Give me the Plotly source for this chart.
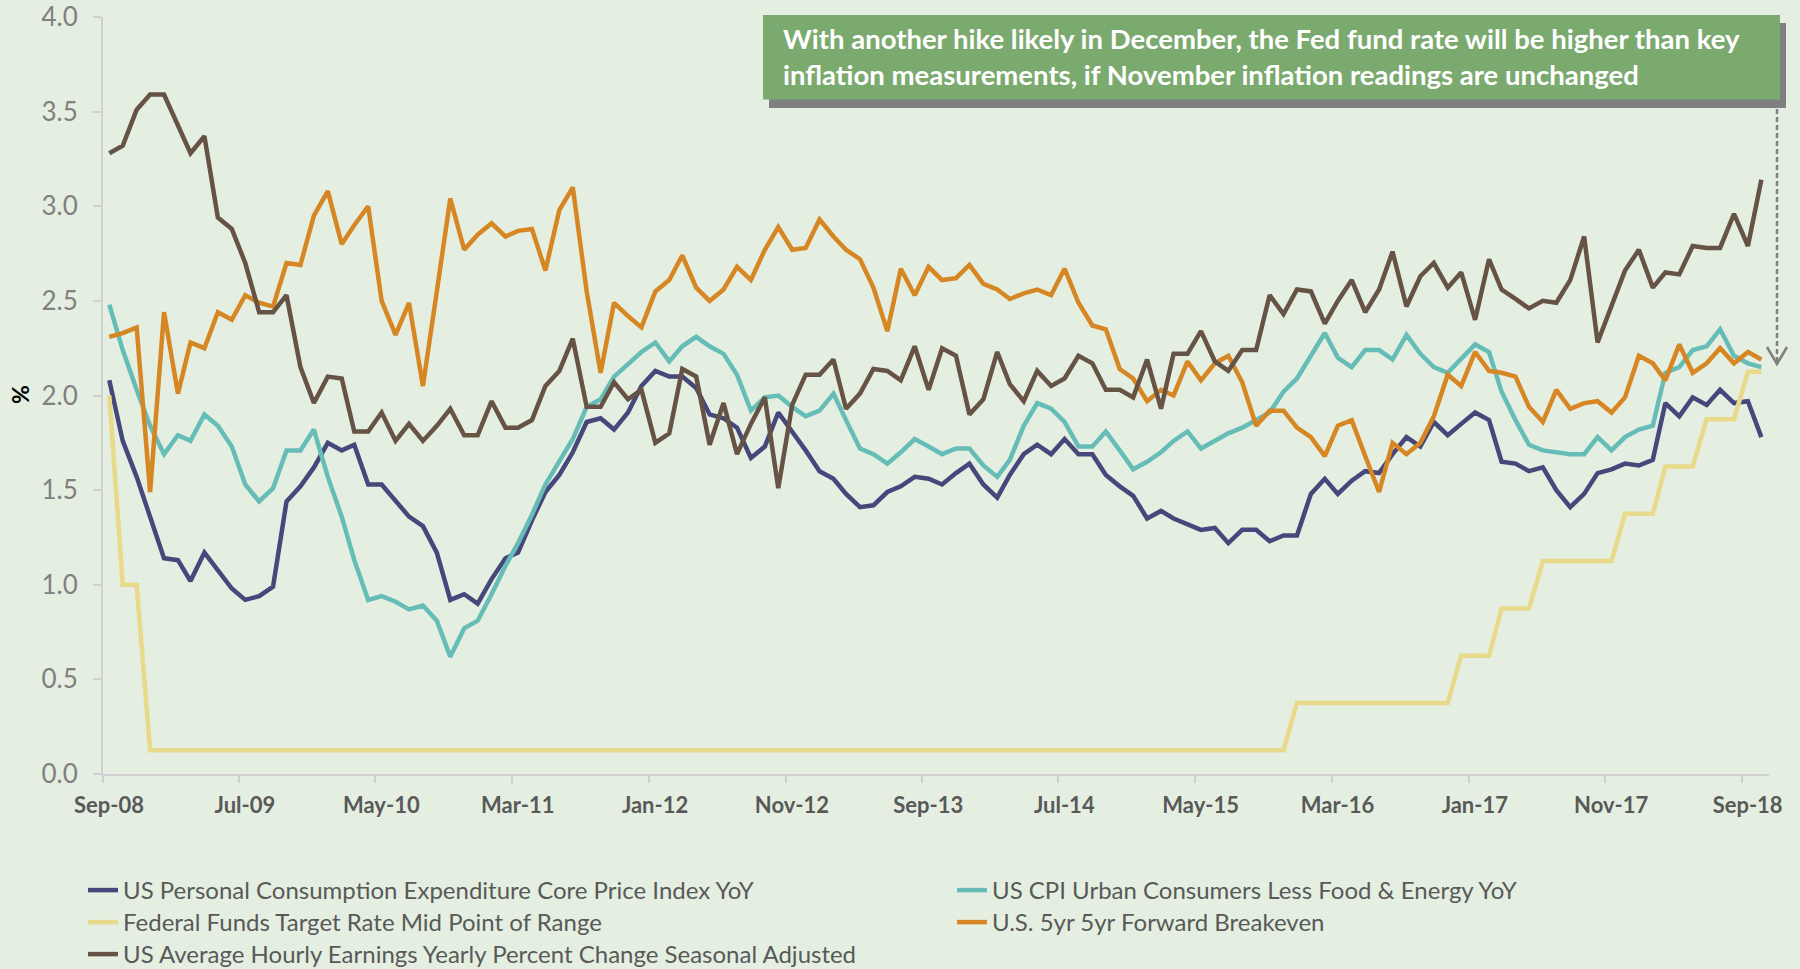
import pandas as pd
import plotly.graph_objects as go

# ---------------- data (monthly, Sep-08 .. Oct-18) ----------------
MONTHS = pd.date_range("2008-09-01", "2018-10-01", freq="MS") + pd.Timedelta(days=14)

PCE_CORE = [
    2.08, 1.76, 1.57, 1.35,
    1.14, 1.13, 1.02, 1.17, 1.08, 0.98, 0.92, 0.94, 0.99, 1.44, 1.52, 1.62,
    1.75, 1.71, 1.74, 1.53, 1.53, 1.44, 1.36, 1.31, 1.17, 0.92, 0.95, 0.90,
    1.03, 1.14, 1.17, 1.34, 1.49, 1.58, 1.70, 1.86, 1.88, 1.82, 1.91, 2.05,
    2.13, 2.10, 2.10, 2.04, 1.90, 1.88, 1.83, 1.67, 1.73, 1.91, 1.81, 1.71,
    1.60, 1.56, 1.48, 1.41, 1.42, 1.49, 1.52, 1.57, 1.56, 1.53, 1.59, 1.64,
    1.53, 1.46, 1.58, 1.69, 1.74, 1.69, 1.77, 1.69, 1.69, 1.58, 1.52, 1.47,
    1.35, 1.39, 1.35, 1.32, 1.29, 1.30, 1.22, 1.29, 1.29, 1.23, 1.26, 1.26,
    1.48, 1.56, 1.48, 1.55, 1.60, 1.59, 1.69, 1.78, 1.73, 1.86, 1.79, 1.85,
    1.91, 1.87, 1.65, 1.64, 1.60, 1.62, 1.50, 1.41, 1.48, 1.59, 1.61, 1.64,
    1.63, 1.66, 1.96, 1.89, 1.99, 1.95, 2.03, 1.96, 1.97, 1.78,
]

CPI_CORE = [
    2.48, 2.24, 2.03, 1.84,
    1.69, 1.79, 1.76, 1.90, 1.84, 1.73, 1.53, 1.44, 1.51, 1.71, 1.71, 1.82,
    1.57, 1.36, 1.13, 0.92, 0.94, 0.91, 0.87, 0.89, 0.81, 0.62, 0.77, 0.81,
    0.95, 1.10, 1.22, 1.37, 1.53, 1.65, 1.77, 1.94, 1.98, 2.10, 2.17, 2.23,
    2.28, 2.18, 2.26, 2.31, 2.26, 2.22, 2.11, 1.92, 1.99, 2.00, 1.94, 1.89,
    1.92, 2.01, 1.87, 1.72, 1.69, 1.64, 1.70, 1.77, 1.73, 1.69, 1.72, 1.72,
    1.63, 1.57, 1.66, 1.84, 1.96, 1.93, 1.86, 1.73, 1.73, 1.81, 1.71, 1.61,
    1.65, 1.70, 1.76, 1.81, 1.72, 1.76, 1.80, 1.83, 1.87, 1.91, 2.02, 2.09,
    2.21, 2.33, 2.20, 2.15, 2.24, 2.24, 2.19, 2.32, 2.22, 2.15, 2.12, 2.19,
    2.27, 2.23, 2.02, 1.87, 1.74, 1.71, 1.70, 1.69, 1.69, 1.78, 1.71, 1.78,
    1.82, 1.84, 2.12, 2.15, 2.24, 2.26, 2.35, 2.21, 2.17, 2.15,
]

FED_FUNDS_MID = [
    2.000, 1.000, 1.000, 0.125,
    0.125, 0.125, 0.125, 0.125, 0.125, 0.125, 0.125, 0.125, 0.125, 0.125, 0.125, 0.125,
    0.125, 0.125, 0.125, 0.125, 0.125, 0.125, 0.125, 0.125, 0.125, 0.125, 0.125, 0.125,
    0.125, 0.125, 0.125, 0.125, 0.125, 0.125, 0.125, 0.125, 0.125, 0.125, 0.125, 0.125,
    0.125, 0.125, 0.125, 0.125, 0.125, 0.125, 0.125, 0.125, 0.125, 0.125, 0.125, 0.125,
    0.125, 0.125, 0.125, 0.125, 0.125, 0.125, 0.125, 0.125, 0.125, 0.125, 0.125, 0.125,
    0.125, 0.125, 0.125, 0.125, 0.125, 0.125, 0.125, 0.125, 0.125, 0.125, 0.125, 0.125,
    0.125, 0.125, 0.125, 0.125, 0.125, 0.125, 0.125, 0.125, 0.125, 0.125, 0.125, 0.375,
    0.375, 0.375, 0.375, 0.375, 0.375, 0.375, 0.375, 0.375, 0.375, 0.375, 0.375, 0.625,
    0.625, 0.625, 0.875, 0.875, 0.875, 1.125, 1.125, 1.125, 1.125, 1.125, 1.125, 1.375,
    1.375, 1.375, 1.625, 1.625, 1.625, 1.875, 1.875, 1.875, 2.125, 2.125,
]

BREAKEVEN_5Y5Y = [
    2.31, 2.33, 2.36, 1.49,
    2.44, 2.01, 2.28, 2.25, 2.44, 2.40, 2.53, 2.49, 2.47, 2.70, 2.69, 2.95,
    3.08, 2.80, 2.90, 3.00, 2.50, 2.32, 2.49, 2.05, 2.55, 3.04, 2.77, 2.85,
    2.91, 2.84, 2.87, 2.88, 2.66, 2.98, 3.10, 2.55, 2.12, 2.49, 2.42, 2.36,
    2.55, 2.61, 2.74, 2.57, 2.50, 2.56, 2.68, 2.61, 2.77, 2.89, 2.77, 2.78,
    2.93, 2.84, 2.77, 2.72, 2.57, 2.34, 2.67, 2.53, 2.68, 2.61, 2.62, 2.69,
    2.59, 2.56, 2.51, 2.54, 2.56, 2.53, 2.67, 2.49, 2.37, 2.35, 2.14, 2.09,
    1.97, 2.03, 2.00, 2.18, 2.08, 2.17, 2.21, 2.07, 1.84, 1.92, 1.92, 1.83,
    1.78, 1.68, 1.84, 1.87, 1.68, 1.49, 1.75, 1.69, 1.75, 1.89, 2.11, 2.05,
    2.23, 2.13, 2.12, 2.10, 1.94, 1.86, 2.03, 1.93, 1.96, 1.97, 1.91, 1.99,
    2.21, 2.17, 2.08, 2.27, 2.12, 2.17, 2.25, 2.17, 2.23, 2.19,
]

AHE_YOY = [
    3.28, 3.32, 3.51, 3.59,
    3.59, 3.43, 3.28, 3.37, 2.94, 2.88, 2.70, 2.44, 2.44, 2.53, 2.15, 1.96,
    2.10, 2.09, 1.81, 1.81, 1.91, 1.76, 1.85, 1.76, 1.84, 1.93, 1.79, 1.79,
    1.97, 1.83, 1.83, 1.87, 2.05, 2.13, 2.30, 1.94, 1.94, 2.07, 1.98, 2.03,
    1.75, 1.80, 2.14, 2.10, 1.74, 1.96, 1.69, 1.85, 1.99, 1.51, 1.95, 2.11,
    2.11, 2.19, 1.93, 2.01, 2.14, 2.13, 2.08, 2.26, 2.03, 2.25, 2.21, 1.90,
    1.98, 2.23, 2.06, 1.97, 2.13, 2.05, 2.09, 2.21, 2.17, 2.03, 2.03, 1.99,
    2.19, 1.93, 2.22, 2.22, 2.34, 2.18, 2.13, 2.24, 2.24, 2.53, 2.43, 2.56,
    2.55, 2.38, 2.50, 2.61, 2.44, 2.56, 2.76, 2.47, 2.63, 2.70, 2.57, 2.65,
    2.40, 2.72, 2.56, 2.51, 2.46, 2.50, 2.49, 2.61, 2.84, 2.28, 2.47, 2.66,
    2.77, 2.57, 2.65, 2.64, 2.79, 2.78, 2.78, 2.96, 2.79, 3.14,
]

SERIES_NAMES = [
    "US Personal Consumption Expenditure Core Price Index YoY",
    "US CPI Urban Consumers Less Food & Energy YoY",
    "Federal Funds Target Rate Mid Point of Range",
    "U.S. 5yr 5yr Forward Breakeven",
    "US Average Hourly Earnings Yearly Percent Change Seasonal Adjusted",
]
SERIES_COLORS = ["#46477A", "#66BDB7", "#E9D98A", "#D68724", "#665345"]
LEGEND_ROWS = ["legend", "legend", "legend2", "legend2", "legend3"]

TICK_LABELS = ["Sep-08", "Jul-09", "May-10", "Mar-11", "Jan-12", "Nov-12", "Sep-13",
               "Jul-14", "May-15", "Mar-16", "Jan-17", "Nov-17", "Sep-18"]
TICK_VALS = pd.date_range("2008-09-01", periods=len(TICK_LABELS), freq="10MS")

NOTE = ("With another hike likely in December, the Fed fund rate will be higher than key<br>"
        "inflation measurements, if November inflation readings are unchanged")

# ---------------- layout geometry (pixels) ----------------
W, H = 1800, 969
L, R, T, B = 103, 1769, 17, 774   # plot area edges in px


def px(x):
    return (x - L) / (R - L)


def py(y):
    return (B - y) / (B - T)


BG = "#E4EFE1"
FONT = "Lato"

fig = go.Figure()
for name, vals, col, lg in zip(SERIES_NAMES,
                               [PCE_CORE, CPI_CORE, FED_FUNDS_MID, BREAKEVEN_5Y5Y, AHE_YOY],
                               SERIES_COLORS, LEGEND_ROWS):
    fig.add_trace(go.Scatter(x=MONTHS, y=vals, mode="lines", name=name, legend=lg,
                             line=dict(color=col, width=4.5)))

shapes = [
    # shadow and box of the note
    dict(type="rect", xref="paper", yref="paper", x0=px(769), x1=px(1786), y0=py(108), y1=py(23),
         fillcolor="#808080", line=dict(width=0), layer="above"),
    dict(type="rect", xref="paper", yref="paper", x0=px(763), x1=px(1780), y0=py(99.5), y1=py(15),
         fillcolor="#7BAA6E", line=dict(width=0), layer="above"),
    # dashed arrow
    dict(type="line", xref="paper", yref="paper", x0=px(1777), x1=px(1777), y0=py(109), y1=py(363),
         line=dict(color="#7F7F7F", width=2.5, dash="5px,3px")),
    dict(type="path", xref="paper", yref="paper",
         path=f"M {px(1767)},{py(347)} L {px(1777)},{py(364)} L {px(1787)},{py(347)}",
         line=dict(color="#7F7F7F", width=2.5)),
]


def legend_row(top_px):
    return dict(orientation="h", x=px(83), xanchor="left", y=py(top_px), yanchor="top",
                font=dict(size=24, color="#595959", family=FONT),
                entrywidth=824, entrywidthmode="pixels",
                bgcolor="rgba(0,0,0,0)", borderwidth=0, traceorder="normal")


fig.update_layout(
    width=W, height=H,
    paper_bgcolor=BG, plot_bgcolor=BG,
    margin=dict(l=L, r=W - R, t=T, b=H - B, autoexpand=False),
    font=dict(family=FONT, color="#595959"),
    showlegend=True,
    legend=legend_row(868),
    legend2=legend_row(900),
    legend3=legend_row(932),
    xaxis=dict(type="date", range=["2008-09-01", "2018-11-01"],
               tickvals=TICK_VALS, ticktext=TICK_LABELS,
               showgrid=False, zeroline=False,
               showline=True, linecolor="#D0D0D0", linewidth=2,
               ticks="outside", ticklen=7, tickwidth=1.5, tickcolor="#D0D0D0",
               tickfont=dict(size=22, color="#595959", family=FONT, weight="bold"),
               ticklabelshift=6, ticklabelstandoff=4),
    yaxis=dict(range=[0, 4], dtick=0.5, tickformat=".1f",
               showgrid=False, zeroline=False,
               showline=True, linecolor="#D0D0D0", linewidth=2,
               ticks="outside", ticklen=8, tickwidth=1.5, tickcolor="#D0D0D0",
               tickfont=dict(size=26, color="#808080", family=FONT),
               ticklabelstandoff=10),
    shapes=shapes,
    annotations=[
        dict(text=NOTE, xref="paper", yref="paper", x=px(781), y=py(57),
             xanchor="left", yanchor="middle", align="left", showarrow=False,
             font=dict(size=27.5, color="white", family=FONT, weight="bold")),
        dict(text="<b>%</b>", xref="paper", yref="paper", x=px(20), y=py(395),
             xanchor="center", yanchor="middle", textangle=-90, showarrow=False,
             font=dict(size=23, color="black", family=FONT)),
    ],
)

fig.write_html("out.html", config={"displayModeBar": False},
               post_script="document.body.style.margin='0';document.body.style.overflow='hidden';")
